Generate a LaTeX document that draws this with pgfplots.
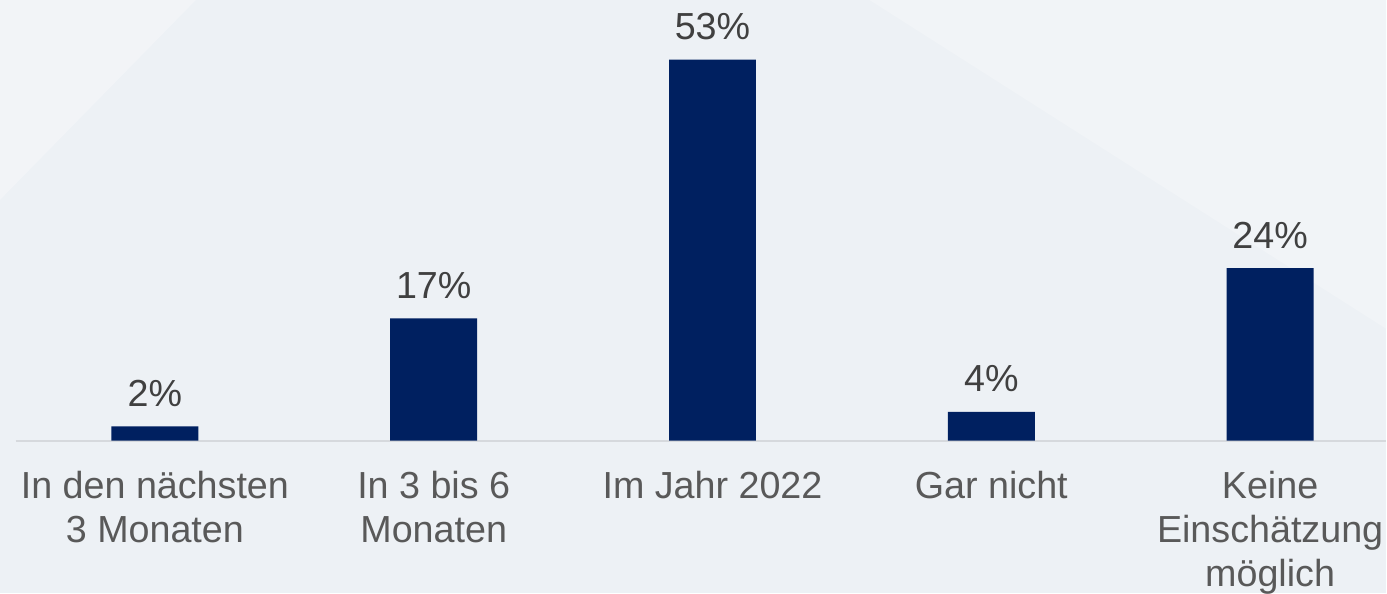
\documentclass[border=0pt]{standalone}
\usepackage{fontspec}
\setmainfont{Liberation Sans}
\usepackage{pgfplots}
\pgfplotsset{compat=1.18}
\definecolor{navy}{HTML}{002060}
\definecolor{bg}{HTML}{EDF1F5}
\definecolor{bglight}{HTML}{F1F4F7}
\definecolor{valgray}{HTML}{404040}
\definecolor{labgray}{HTML}{595959}
\definecolor{linegray}{HTML}{D6D9DD}
\newcommand{\chartfont}{\fontsize{18.85}{21.8}\selectfont}

\begin{document}
\begin{tikzpicture}
% background, 1px = 0.5pt
\begin{scope}[x=0.5pt,y=0.5pt]
\path[use as bounding box, fill=bg] (0,0) rectangle (1387,593);
\fill[bglight] (870,593) -- (1387,593) -- (1387,264) -- cycle;
\fill[bglight!60!white, opacity=0.5] (0,593) -- (196,593) -- (0,393) -- cycle;
\end{scope}
\begin{axis}[
  at={(0pt,76pt)}, anchor=south west,
  scale only axis, width=693.5pt, height=220.5pt,
  xmin=-0.5556, xmax=4.4158, ymin=0, ymax=61.3,
  ybar, bar width=0.312, clip=false,
  hide y axis, axis x line*=bottom, x axis line style={draw=none},
  major tick length=0pt,
  xtick=data,
  xticklabels={{In den nächsten\\3 Monaten},{In 3 bis 6\\Monaten},{Im Jahr 2022},{Gar nicht},{Keine\\Einschätzung\\möglich}},
  xticklabel style={align=center, anchor=north, inner sep=0pt, yshift=-15.25pt, font=\chartfont, text=labgray},
  nodes near coords={\pgfmathprintnumber{\pgfplotspointmeta}\%},
  every node near coord/.append style={anchor=base, yshift=10pt, font=\chartfont, text=valgray},
  /pgf/number format/assume math mode=true,
]
\draw[linegray, line width=1pt] (axis cs:-0.5,0) -- (axis cs:4.4158,0);
\addplot[fill=navy, draw=none] coordinates {(0,2) (1,17) (2,53) (3,4) (4,24)};
\end{axis}
\end{tikzpicture}
\end{document}
